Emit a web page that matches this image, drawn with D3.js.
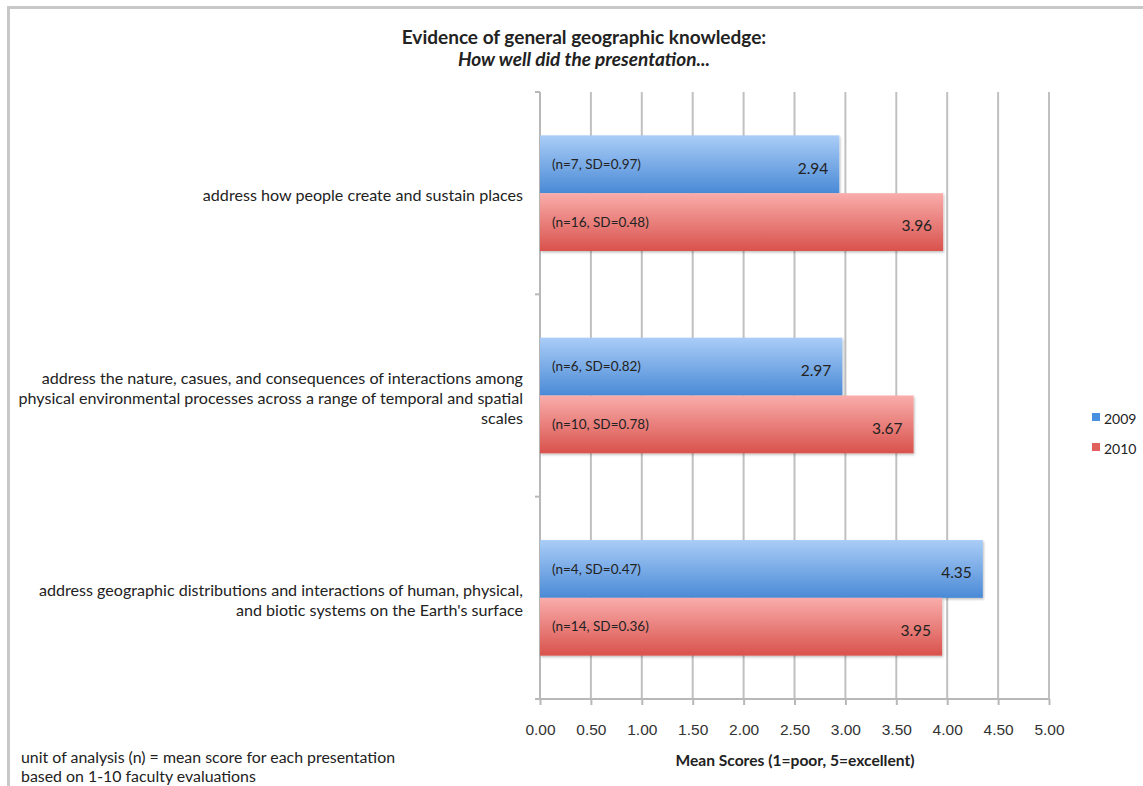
<!DOCTYPE html>
<html><head><meta charset="utf-8">
<script src="https://cdn.jsdelivr.net/npm/d3@7"></script>
<style>
body{margin:0;background:#fff;}
svg{display:block;font-family:Lato,"Open Sans",sans-serif;}
</style></head>
<body><svg id="c" width="1143" height="786"></svg>
<script>
const categories = [
  ["address how people create and sustain places"],
  ["address the nature, casues, and consequences of interactions among","physical environmental processes across a range of temporal and spatial","scales"],
  ["address geographic distributions and interactions of human, physical,","and biotic systems on the Earth's surface"]
];
const seriesNames = ["2009","2010"];
const values2009 = [2.94, 2.97, 4.35];
const values2010 = [3.96, 3.67, 3.95];
const notes2009 = ["(n=7, SD=0.97)","(n=6, SD=0.82)","(n=4, SD=0.47)"];
const notes2010 = ["(n=16, SD=0.48)","(n=10, SD=0.78)","(n=14, SD=0.36)"];
const xTicks = [0,0.5,1,1.5,2,2.5,3,3.5,4,4.5,5];

const svg = d3.select("#c");
const defs = svg.append("defs");
const grads = [["gBlue","#aacdf7","#4a8ad6"],["gRed","#f9adab","#d9524c"]];
grads.forEach(([id,a,b])=>{
  const g = defs.append("linearGradient").attr("id",id).attr("x1",0).attr("y1",0).attr("x2",0).attr("y2",1);
  g.append("stop").attr("offset","0%").attr("stop-color",a);
  g.append("stop").attr("offset","100%").attr("stop-color",b);
});
const f = defs.append("filter").attr("id","sh").attr("x","-5%").attr("y","-10%").attr("width","110%").attr("height","130%");
f.append("feDropShadow").attr("dx",1).attr("dy",1.5).attr("stdDeviation",1.2).attr("flood-color","#000").attr("flood-opacity",0.25);

// frame
svg.append("path").attr("d","M8.5,786 V7.5 H1143").attr("fill","none").attr("stroke","#c8c8c8").attr("stroke-width",3);

const L=540, R=1049, T=92, B=699;
const x = d3.scaleLinear().domain([0,5]).range([L,R]);
const y = d3.scaleBand().domain(d3.range(categories.length)).range([T,B]);
const inner = d3.scaleBand().domain(seriesNames).range([0,y.bandwidth()]).paddingInner(0).paddingOuter(0.75);

// gridlines
svg.append("g").selectAll("line").data(xTicks.slice(1)).join("line")
  .attr("x1",d=>x(d)).attr("x2",d=>x(d)).attr("y1",T).attr("y2",B)
  .attr("stroke","#c0c0c0").attr("stroke-width",2);

// bottom axis
const xa = svg.append("g").attr("transform",`translate(0,${B})`)
  .call(d3.axisBottom(x).tickValues(xTicks).tickFormat(d3.format(".2f")).tickSize(6).tickPadding(19));
xa.select(".domain").attr("stroke","#b8b8b8").attr("stroke-width",2).attr("d",`M${L-4},0H${R+1}`);
xa.selectAll(".tick line").attr("stroke","#b8b8b8").attr("stroke-width",2);
xa.selectAll("text").attr("fill","#333").attr("font-size",15.5);

// left axis
const ya = svg.append("g").attr("transform",`translate(${L},0)`);
ya.append("line").attr("x1",0).attr("x2",0).attr("y1",T).attr("y2",B).attr("stroke","#b8b8b8").attr("stroke-width",2);
ya.selectAll(".t").data(d3.range(categories.length+1)).join("line")
  .attr("x1",-5).attr("x2",0)
  .attr("y1",i=>T+i*y.step()).attr("y2",i=>T+i*y.step())
  .attr("stroke","#b8b8b8").attr("stroke-width",2);

// bars
const series = [
  {name:"2009", vals:values2009, notes:notes2009, fill:"url(#gBlue)"},
  {name:"2010", vals:values2010, notes:notes2010, fill:"url(#gRed)"}
];
series.forEach(s=>{
  const g = svg.append("g");
  s.vals.forEach((v,i)=>{
    const y0 = y(i)+inner(s.name);
    g.append("rect").attr("x",x(0)).attr("y",y0).attr("width",x(v)-x(0)).attr("height",inner.bandwidth())
      .attr("fill",s.fill).attr("filter","url(#sh)");
    g.append("text").attr("x",x(0)+12).attr("y",y0+inner.bandwidth()/2).attr("dy","0.35em")
      .attr("font-size",13.5).attr("fill","#222").text(s.notes[i]);
    g.append("text").attr("x",x(v)-11).attr("y",y0+inner.bandwidth()/2+4).attr("dy","0.35em")
      .attr("text-anchor","end").attr("font-size",15.5).attr("fill","#222").text(v.toFixed(2));
  });
});

// category labels
categories.forEach((lines,i)=>{
  const cy = y(i)+y.bandwidth()/2;
  const lh = 20;
  const t = svg.append("text").attr("text-anchor","end").attr("font-size",16.1).attr("fill","#222");
  lines.forEach((ln,j)=>{
    t.append("tspan").attr("x",523).attr("y",cy+(j-(lines.length-1)/2)*lh+8).text(ln);
  });
});

// title
svg.append("text").attr("x",584).attr("y",44).attr("text-anchor","middle").attr("font-size",19).attr("font-weight","bold").attr("fill","#222")
  .text("Evidence of general geographic knowledge:");
svg.append("text").attr("x",584).attr("y",66).attr("text-anchor","middle").attr("font-size",19).attr("font-weight","bold").attr("font-style","italic").attr("fill","#222")
  .text("How well did the presentation...");

// axis title
svg.append("text").attr("x",795).attr("y",766).attr("text-anchor","middle").attr("font-size",15.6).attr("font-weight","bold").attr("fill","#222")
  .text("Mean Scores (1=poor, 5=excellent)");

// footnote
const fn = svg.append("text").attr("font-size",15.9).attr("fill","#222");
fn.append("tspan").attr("x",21).attr("y",763).text("unit of analysis (n) = mean score for each presentation");
fn.append("tspan").attr("x",21).attr("y",782).text("based on 1-10 faculty evaluations");

// legend
const colors = ["#4a90e2","#e0605b"];
seriesNames.forEach((n,i)=>{
  svg.append("rect").attr("x",1092).attr("y",413+i*30).attr("width",8).attr("height",8).attr("fill",colors[i]);
  svg.append("text").attr("x",1104).attr("y",424+i*30).attr("font-size",14).attr("fill","#222").text(n);
});
</script></body></html>
